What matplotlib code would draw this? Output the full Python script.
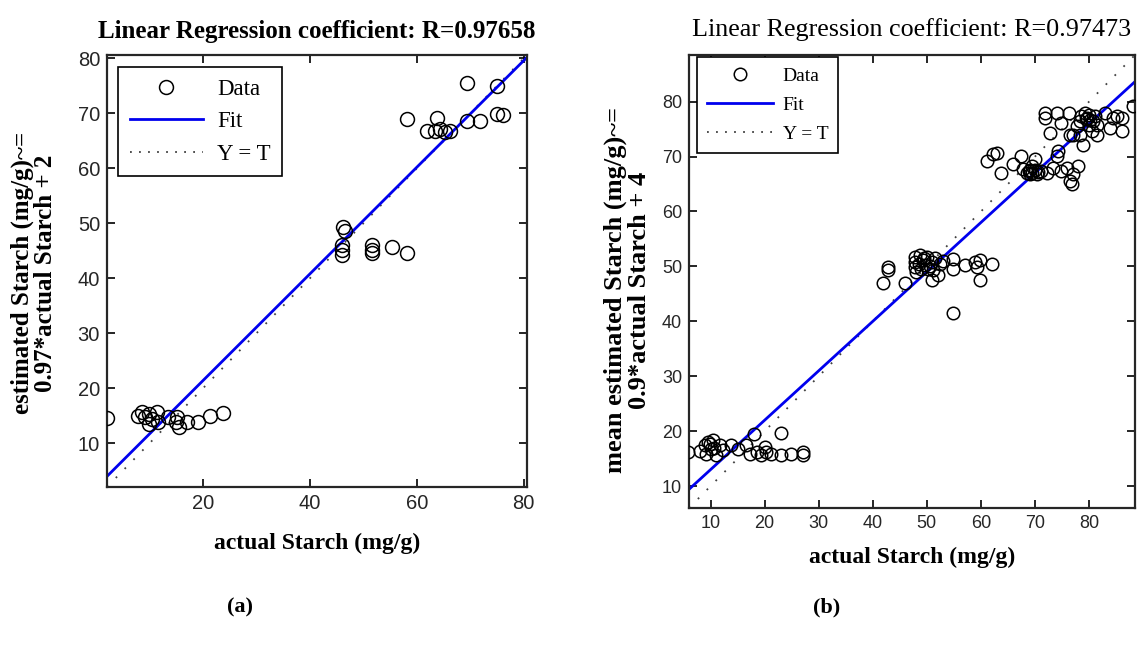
import matplotlib
matplotlib.use("Agg")
import matplotlib.pyplot as plt
from matplotlib.lines import Line2D
import numpy as np

# ---- panel (a): actual vs. estimated starch ----
actual_a = [2.0, 7.8, 8.5, 9.2, 9.8, 10.4, 11.3, 9.8, 11.6, 13.5, 15.1, 15.0, 15.4,
            17.0, 19.1, 21.3, 23.8,
            46.2, 46.5, 45.9, 45.9, 45.9, 51.5, 51.5, 51.5, 55.3, 58.1,
            69.3, 74.9, 58.1, 63.7, 61.8, 63.4, 64.3, 65.2, 66.2, 69.3, 71.8, 74.9, 76.1]
est_a = [14.5, 15.0, 15.6, 14.7, 15.3, 14.4, 15.6, 13.5, 13.8, 14.7, 14.7, 13.8, 12.9,
         13.8, 13.8, 15.0, 15.5,
         49.3, 48.5, 46.0, 45.1, 44.2, 46.0, 45.1, 44.5, 45.7, 44.5,
         75.5, 74.9, 68.9, 69.2, 66.8, 66.8, 67.1, 66.5, 66.8, 68.6, 68.6, 69.8, 69.6]
slope_a, icept_a = 0.97, 2
r_a = 0.97658
lim_a = (2.0, 80.6)

# ---- panel (b): actual vs. mean estimated starch ----
actual_b = [5.9, 8.0, 8.9, 9.2, 9.9, 10.1, 10.4, 11.0, 11.7, 12.3, 13.8, 15.1, 16.6,
            17.2, 18.1, 18.5, 19.4, 20.0, 20.3, 21.2, 23.1, 23.1, 24.9, 27.1, 27.1,
            9.5, 10.6,
            42.8, 42.8, 41.9, 45.9, 47.8, 47.8, 47.8, 48.7, 49.3, 49.6, 50.0, 50.2,
            50.9, 51.2, 50.9, 52.1, 54.9, 54.9, 57.0, 58.9, 59.2, 59.8, 59.8, 62.0,
            54.9, 48.5, 49.0, 50.5, 49.5, 51.5, 48.0, 52.5, 53.0,
            61.1, 62.3, 62.9, 63.8, 66.0, 67.5, 67.8, 68.8, 69.4, 70.0, 70.3, 71.2,
            72.2, 73.4, 74.0, 74.9, 75.9, 76.5, 76.8, 78.0, 77.1,
            68.5, 69.0, 69.5, 70.0, 69.0, 70.5,
            71.9, 71.9, 74.0, 76.2, 74.9, 72.8, 76.5, 78.3, 78.6, 79.3, 79.6, 79.9,
            80.2, 80.8, 81.1, 81.4, 80.5, 78.9, 81.4, 83.0, 83.9, 84.5, 85.1, 86.1,
            86.1, 88.2, 77.7, 77.1, 78.3, 74.2, 79.5, 80.0]
est_b = [16.2, 16.3, 17.4, 15.9, 17.7, 16.8, 18.3, 15.7, 17.4, 16.5, 17.4, 16.8, 17.4,
         15.9, 19.5, 16.2, 15.6, 17.1, 16.2, 15.9, 19.7, 15.6, 15.9, 16.2, 15.6,
         18.0, 17.0,
         49.9, 49.3, 46.9, 46.9, 51.7, 50.8, 49.9, 52.0, 51.1, 50.2, 51.7, 49.6,
         50.8, 49.3, 47.5, 48.4, 51.4, 49.6, 50.2, 50.8, 49.9, 51.1, 47.5, 50.5,
         41.5, 50.5, 49.5, 50.0, 51.5, 51.5, 49.0, 50.5, 51.0,
         69.2, 70.4, 70.7, 67.1, 68.6, 70.1, 67.7, 67.4, 68.3, 69.5, 66.8, 67.4,
         67.1, 68.0, 70.1, 67.4, 68.0, 65.6, 65.0, 68.3, 66.8,
         67.0, 67.5, 67.0, 67.5, 66.8, 67.2,
         78.0, 77.1, 78.0, 78.0, 76.1, 74.3, 74.0, 76.4, 77.3, 78.0, 77.1, 75.8,
         76.7, 76.4, 77.3, 75.8, 74.6, 72.2, 74.0, 78.0, 75.2, 77.1, 77.3, 77.1,
         74.6, 79.2, 75.5, 74.0, 74.0, 71.1, 76.8, 77.6]
slope_b, icept_b = 0.9, 4
r_b = 0.97473
lim_b = (6.0, 88.5)

W, H = 1137, 646
fig = plt.figure(figsize=(W / 100, H / 100), dpi=100)

SERIF = ["Liberation Serif", "DejaVu Serif"]
SANS = ["Liberation Sans", "DejaVu Sans"]


def px_axes(left, top, right, bottom):
    return fig.add_axes([left / W, 1 - bottom / H, (right - left) / W, (bottom - top) / H])


def regression_panel(ax, x, y, slope, icept, lim, xticks, yticks, msize, tick_fs):
    x = np.asarray(x)
    y = np.asarray(y)
    xs = np.array(lim)
    ax.plot(x, y, linestyle="none", marker="o", markersize=msize,
            markerfacecolor="none", markeredgecolor="black", markeredgewidth=1.1,
            zorder=3)
    ax.plot(xs, slope * xs + icept, color="#0000ee", linewidth=2.0, zorder=2)
    ax.plot(xs, xs, color="0.25", linestyle=(0, (1, 6)), linewidth=1.3, zorder=1)
    ax.set_xlim(lim)
    ax.set_ylim(lim)
    ax.set_xticks(xticks)
    ax.set_yticks(yticks)
    ax.tick_params(direction="in", length=6, width=1.2, top=True, right=True,
                   labelsize=tick_fs, pad=5, labelcolor="0.15")
    for lab in ax.get_xticklabels() + ax.get_yticklabels():
        lab.set_family(SANS)
    for sp in ax.spines.values():
        sp.set_linewidth(1.6)
        sp.set_color("0.15")


def legend_handles(msize):
    return [
        Line2D([], [], linestyle="none", marker="o", markersize=msize,
               markerfacecolor="none", markeredgecolor="black", markeredgewidth=1.1),
        Line2D([], [], color="#0000ee", linewidth=2.0),
        Line2D([], [], color="0.25", linestyle=(0, (1, 4)), linewidth=1.3),
    ]


# panel (a)
ax_a = px_axes(107, 55, 527, 487)
regression_panel(ax_a, actual_a, est_a, slope_a, icept_a, lim_a,
                 [20, 40, 60, 80], [10, 20, 30, 40, 50, 60, 70, 80], 10, 14.5)
ax_a.set_title(f"Linear Regression coefficient: R={r_a}", family=SERIF,
               fontweight="bold", fontsize=18, pad=12)
ax_a.set_xlabel("actual Starch (mg/g)", family=SERIF, fontweight="bold",
                fontsize=17, labelpad=14)
leg_a = ax_a.legend(legend_handles(10), ["Data", "Fit", "Y = T"], loc="upper left",
                    bbox_to_anchor=(0.027, 0.972), prop={"family": SERIF, "size": 16.5},
                    fancybox=False, edgecolor="black", framealpha=1,
                    handlelength=3.2, borderpad=0.5, labelspacing=0.5,
                    handletextpad=0.6, borderaxespad=0)
leg_a.get_frame().set_linewidth(1.2)
fig.text(22 / W, 1 - 273 / H, "estimated Starch (mg/g)~=", rotation=90,
         ha="center", va="center", family=SERIF, fontweight="bold", fontsize=18)
fig.text(46 / W, 1 - 273 / H, f"{slope_a}*actual Starch + {icept_a}", rotation=90,
         ha="center", va="center", family=SERIF, fontweight="bold", fontsize=18)

# panel (b)
ax_b = px_axes(689, 55, 1135, 508)
regression_panel(ax_b, actual_b, est_b, slope_b, icept_b, lim_b,
                 [10, 20, 30, 40, 50, 60, 70, 80], [10, 20, 30, 40, 50, 60, 70, 80],
                 9, 13)
ax_b.set_title(f"Linear Regression coefficient: R={r_b}", family=SERIF,
               fontsize=18.8, pad=14)
ax_b.set_xlabel("actual Starch (mg/g)", family=SERIF, fontweight="bold",
                fontsize=17, labelpad=11)
leg_b = ax_b.legend(legend_handles(9), ["Data", "Fit", "Y = T"], loc="upper left",
                    bbox_to_anchor=(0.018, 0.995), prop={"family": SERIF, "size": 14},
                    fancybox=False, edgecolor="black", framealpha=1,
                    handlelength=3.4, borderpad=0.5, labelspacing=0.6,
                    handletextpad=0.5, borderaxespad=0)
leg_b.get_frame().set_linewidth(1.2)
fig.text(615 / W, 1 - 290 / H, "mean estimated Starch (mg/g)~=", rotation=90,
         ha="center", va="center", family=SERIF, fontweight="bold", fontsize=19)
fig.text(639 / W, 1 - 290 / H, f"{slope_b}*actual Starch + {icept_b}", rotation=90,
         ha="center", va="center", family=SERIF, fontweight="bold", fontsize=19)

# captions
fig.text(240 / W, 1 - 607 / H, "(a)", ha="center", va="center", family=SERIF,
         fontweight="bold", fontsize=16)
fig.text(827 / W, 1 - 607 / H, "(b)", ha="center", va="center", family=SERIF,
         fontweight="bold", fontsize=16)

fig.savefig("out.png", dpi=100, facecolor="white")
